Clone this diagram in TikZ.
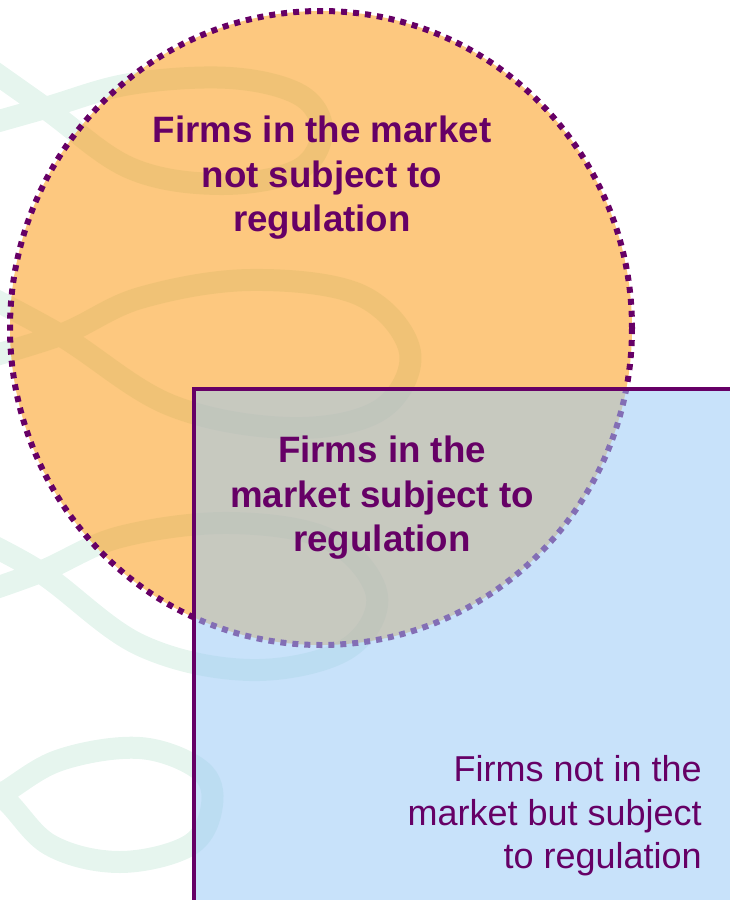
\documentclass[tikz,border=0pt]{standalone}
\usepackage{fontspec}
\setmainfont{Liberation Sans}
\usepackage{tikz}
\usetikzlibrary{positioning, shapes}

\definecolor{plum}{RGB}{102,0,102}
\definecolor{apricot}{RGB}{251,145,0}
\definecolor{skyblue}{RGB}{155,202,246}
\definecolor{mint}{RGB}{230,245,238}

\begin{document}
\begin{tikzpicture}[x=1pt, y=-1pt,
  swirl/.style={draw=mint, line width=22pt, line cap=round},
  marketzone/.style={ellipse, fill=apricot, fill opacity=0.5,
    minimum width=622pt, minimum height=634pt, inner sep=0pt, outer sep=0pt},
  marketedge/.style={draw=plum, line width=6pt, dash pattern=on 6pt off 6pt},
  regzone/.style={draw=plum, rectangle, fill=skyblue, fill opacity=0.55,
    line width=3.5pt, minimum width=560pt, minimum height=530pt,
    inner sep=0pt, outer sep=0pt, anchor=north west},
  boldlabel/.style={text=plum, align=center, inner sep=0pt,
    font=\fontsize{36.7}{44.5}\selectfont\bfseries},
  plainlabel/.style={text=plum, align=right, inner sep=0pt,
    font=\fontsize{36}{43.5}\selectfont}]

\useasboundingbox (0,0) rectangle (730,900);
\clip (0,0) rectangle (730,900);

% faint loops behind the picture
\draw [swirl] plot [smooth, tension=0.6] coordinates {(-40,132) (45,108) (130,84) (230,78) (300,95) (322,131) (298,170) (220,184) (130,168) (45,108) (-40,48)};
\draw [swirl] plot [smooth, tension=0.6] coordinates {(-40,365) (60,335) (140,298) (250,280) (360,295) (410,352) (380,410) (290,428) (170,405) (60,335) (-40,282)};
\draw [swirl] plot [smooth, tension=0.6] coordinates {(-40,600) (40,572) (120,537) (230,523) (330,540) (377,596) (345,650) (250,670) (140,645) (40,572) (-40,530)};
\draw [swirl] plot [smooth, tension=0.6] coordinates {(-60,830) (0,795) (60,760) (140,748) (200,770) (212,805) (190,845) (120,862) (50,845) (0,795) (-60,760)};

\node [marketzone] (market) at (321,328) {};
\draw [marketedge] (market.center) ellipse [x radius=311, y radius=317];
\node [regzone] (regulated) at (194,389) {};

\node [boldlabel] (outside) at (322,178) {Firms in the market\\not subject to\\regulation};
\node [boldlabel] (both) at (382,498) {Firms in the\\market subject to\\regulation};
\node [plainlabel, anchor=east] (regonly) at (702,816) {Firms not in the\\market but subject\\to regulation};

\end{tikzpicture}
\end{document}
